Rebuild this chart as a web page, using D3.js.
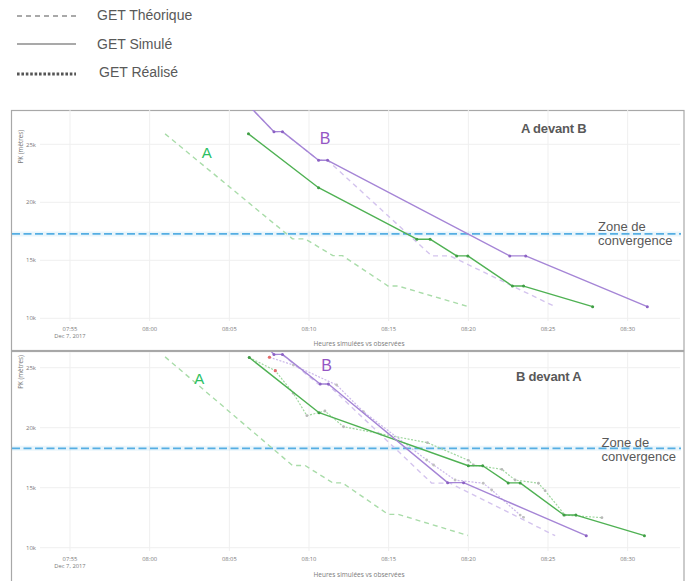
<!DOCTYPE html>
<html><head><meta charset="utf-8">
<script src="https://cdn.jsdelivr.net/npm/d3@7"></script>
<style>
body{margin:0;background:#fff;}
svg{display:block;font-family:"Liberation Sans",Arial,sans-serif;}
</style>
</head><body>
<svg id="c" width="689" height="581"></svg>
<script>
// ---------------- DATA ----------------
const xTickLabels = ["07:55","08:00","08:05","08:10","08:15","08:20","08:25","08:30"];
const yTickValues = [10000, 15000, 20000, 25000];
const legendLabels = ["GET Théorique", "GET Simulé", "GET Réalisé"];
const panelTitles = ["A devant B", "B devant A"];
const convergenceLevels = [17270, 18280];

// GET Théorique (same in both panels)
const theoriqueA = [["08:00:58",25900],["08:08:58",16850],["08:09:45",16850],["08:11:30",15400],
  ["08:12:06",15400],["08:14:58",12780],["08:15:36",12780],["08:19:58",11020]];
const theoriqueB = [["08:06:12",28370],["08:07:48",26090],["08:08:20",26090],["08:10:36",23620],
  ["08:11:10",23620],["08:17:42",15380],["08:18:51",15380],["08:25:27",11000]];

// Panel 1 : A devant B
const simuleA_1 = [["08:06:12",25900],["08:10:36",21260],["08:16:46",16820],["08:17:36",16820],
  ["08:19:16",15380],["08:19:58",15380],["08:22:46",12780],["08:23:28",12780],["08:27:48",11000]];
const simuleB_1 = [["08:06:12",28370],["08:07:48",26090],["08:08:20",26090],["08:10:36",23620],
  ["08:11:10",23620],["08:22:36",15380],["08:23:36",15380],["08:31:14",11000]];

// Panel 2 : B devant A
const simuleA_2 = [["08:06:15",25850],["08:10:38",21250],["08:20:00",16830],["08:20:54",16830],
  ["08:22:30",15400],["08:23:15",15400],["08:26:00",12720],["08:26:45",12720],["08:31:03",11000]];
const simuleB_2 = [["08:06:12",28370],["08:07:48",26110],["08:08:20",26110],["08:10:42",23640],
  ["08:11:13",23640],["08:18:42",15420],["08:19:42",15420],["08:27:24",11000]];
const realiseA_2 = [["08:06:15",25850],["08:07:53",24750],["08:09:01",22870],["08:09:52",21000],
  ["08:11:00",21390],["08:12:10",20080],["08:17:26",18750],["08:20:00",17280],["08:20:19",16890],
  ["08:22:06",16530],["08:22:56",15640],["08:24:24",15370],["08:24:49",14750],["08:26:04",12720],
  ["08:28:23",12500]];
const realiseB_2 = [["08:07:31",25870],["08:09:01",25220],["08:11:44",23560],["08:13:25",21330],
  ["08:17:23",17310],["08:17:49",16890],["08:19:10",15640],["08:20:56",15370],["08:21:28",14810],
  ["08:23:15",12720],["08:23:28",12530]];
const redMarkers_2 = [["08:07:31",25870],["08:07:53",24750]];

// ---------------- STYLE ----------------
const GREEN = "#4fb153", GREEN_L = "#a9dca9", PURPLE = "#a585d6", PURPLE_L = "#d4c4ee";
const LABEL_GREEN = "#2bbf63", LABEL_PURPLE = "#9556c4";
const BLUE = "#55aee3";
const TXT = "#595959", TICK = "#7a7a7a";

const parse = d3.timeParse("%H:%M:%S");
const svg = d3.select("#c");

// Legend
const leg = svg.append("g");
const legY = [16, 44, 74];
const legTextY = [20, 49, 77];
const legTextX = [97, 97, 99];
const legDash = ["5,4", null, "2.6,1.8"];
const legW = [1.2, 1.2, 2.8];
legendLabels.forEach((lab, i) => {
  leg.append("line").attr("x1", 17).attr("x2", 76).attr("y1", legY[i]).attr("y2", legY[i])
    .attr("stroke", "#555").attr("stroke-width", legW[i]).attr("stroke-dasharray", legDash[i]);
  leg.append("text").attr("x", legTextX[i]).attr("y", legTextY[i]).attr("font-size", 14)
    .attr("fill", TXT).text(lab);
});

const panels = [
  {frameY: 110, top: 110, bottom: 321, vDom: [9767, 27957], conv: convergenceLevels[0],
   title: panelTitles[0], titleX: 521, titleY: 132.5, convX: 598, convY: [230.5, 244.5],
   A: [206.7, 158], B: [325, 144], axisTitleY: 346, yTitleY: 146.7,
   simA: simuleA_1, simB: simuleB_1, realA: null, realB: null, red: null},
  {frameY: 351, top: 352, bottom: 551, vDom: [9725, 26308], conv: convergenceLevels[1],
   title: panelTitles[1], titleX: 516, titleY: 381, convX: 601.5, convY: [446.5, 460.5],
   A: [199.3, 384], B: [326.7, 371], axisTitleY: 576.5, yTitleY: 372,
   simA: simuleA_2, simB: simuleB_2, realA: realiseA_2, realB: realiseB_2, red: redMarkers_2}
];

const x = d3.scaleTime().domain([parse("07:53:07"), parse("08:33:17")]).range([40, 680]);
const xTicks = xTickLabels.map(s => parse(s + ":00"));

panels.forEach((p, pi) => {
  const g = svg.append("g");
  const y = d3.scaleLinear().domain(p.vDom).range([p.bottom, p.top]);

  // frame
  g.append("rect").attr("x", 11.5).attr("y", p.frameY + 0.5).attr("width", 672.5).attr("height", 240)
    .attr("fill", "none").attr("stroke", "#a8a8a8").attr("stroke-width", 1.2);

  const clipId = "clip" + pi;
  g.append("clipPath").attr("id", clipId).append("rect")
    .attr("x", 40).attr("y", p.top).attr("width", 640).attr("height", p.bottom - p.top);

  // grid
  g.append("g").selectAll("line").data(yTickValues).join("line")
    .attr("x1", 40).attr("x2", 680).attr("y1", d => y(d)).attr("y2", d => y(d))
    .attr("stroke", "#efefef").attr("stroke-width", 1);
  g.append("g").selectAll("line").data(xTicks).join("line")
    .attr("x1", d => x(d)).attr("x2", d => x(d)).attr("y1", p.top).attr("y2", p.bottom)
    .attr("stroke", "#efefef").attr("stroke-width", 1);

  // tick labels
  g.append("g").selectAll("text").data(yTickValues).join("text")
    .attr("x", 36).attr("y", d => y(d) + 2.2).attr("text-anchor", "end")
    .attr("font-size", 6).attr("font-family", "Open Sans").attr("fill", TICK)
    .text(d => d3.format("d")(d / 1000) + "k");
  g.append("g").selectAll("text").data(xTicks).join("text")
    .attr("x", d => x(d)).attr("y", p.bottom + 9.5).attr("text-anchor", "middle")
    .attr("font-size", 5.8).attr("font-family", "Open Sans").attr("fill", TICK)
    .text(d => d3.timeFormat("%H:%M")(d));
  g.append("text").attr("x", x(xTicks[0])).attr("y", p.bottom + 17).attr("text-anchor", "middle")
    .attr("font-size", 5.8).attr("font-family", "Open Sans").attr("fill", TICK).text("Dec 7, 2017");
  g.append("text").attr("x", 359).attr("y", p.axisTitleY).attr("text-anchor", "middle")
    .attr("font-size", 6.5).attr("font-family", "Open Sans").attr("fill", TICK)
    .text("Heures simulées vs observées");
  g.append("text").attr("transform", `translate(22.5,${p.yTitleY}) rotate(-90)`)
    .attr("text-anchor", "middle").attr("font-size", 6.3).attr("font-family", "Open Sans")
    .attr("fill", TICK).text("PK (mètres)");

  // convergence line
  g.append("line").attr("x1", 12).attr("x2", 681).attr("y1", y(p.conv)).attr("y2", y(p.conv))
    .attr("stroke", BLUE).attr("stroke-opacity", 0.13).attr("stroke-width", 5);
  g.append("line").attr("x1", 12).attr("x2", 681).attr("y1", y(p.conv)).attr("y2", y(p.conv))
    .attr("stroke", BLUE).attr("stroke-width", 1.7).attr("stroke-dasharray", "8,3.5");

  const plot = g.append("g").attr("clip-path", `url(#${clipId})`);
  const line = d3.line().x(d => x(parse(d[0]))).y(d => y(d[1]));

  function drawSeries(data, color, width, dash, markerColor, r) {
    plot.append("path").datum(data).attr("d", line).attr("fill", "none")
      .attr("stroke", color).attr("stroke-width", width).attr("stroke-dasharray", dash)
      .attr("stroke-linejoin", "round");
    if (markerColor) {
      plot.append("g").selectAll("circle").data(data).join("circle")
        .attr("cx", d => x(parse(d[0]))).attr("cy", d => y(d[1])).attr("r", r)
        .attr("fill", markerColor);
    }
  }

  drawSeries(theoriqueA, GREEN_L, 1.4, "5,4", null);
  drawSeries(theoriqueB, PURPLE_L, 1.4, "5,4", null);
  if (p.realA) drawSeries(p.realA, "#9fd79f", 1.2, "2,1.5", "#b8b8b8", 1.4);
  if (p.realB) drawSeries(p.realB, "#cbb8ea", 1.2, "2,1.5", "#c0c0c0", 1.4);
  drawSeries(p.simA, GREEN, 1.4, null, "#3f9e44", 1.5);
  drawSeries(p.simB, PURPLE, 1.4, null, "#8c62c4", 1.5);
  if (p.red) {
    plot.append("g").selectAll("circle").data(p.red).join("circle")
      .attr("cx", d => x(parse(d[0]))).attr("cy", d => y(d[1])).attr("r", 1.6).attr("fill", "#e86a6a");
  }

  // annotations
  g.append("text").attr("x", p.titleX).attr("y", p.titleY).attr("font-size", 13)
    .attr("font-weight", "bold").attr("fill", TXT).attr("letter-spacing", -0.2).text(p.title);
  g.append("text").attr("x", p.convX).attr("y", p.convY[0]).attr("font-size", 13)
    .attr("fill", TXT).text("Zone de");
  g.append("text").attr("x", p.convX).attr("y", p.convY[1]).attr("font-size", 13)
    .attr("fill", TXT).text("convergence");
  g.append("text").attr("x", p.A[0]).attr("y", p.A[1]).attr("text-anchor", "middle")
    .attr("font-size", 15).attr("fill", LABEL_GREEN).text("A");
  g.append("text").attr("x", p.B[0]).attr("y", p.B[1]).attr("text-anchor", "middle")
    .attr("font-size", 16).attr("fill", LABEL_PURPLE).text("B");
});
</script>
</body></html>
